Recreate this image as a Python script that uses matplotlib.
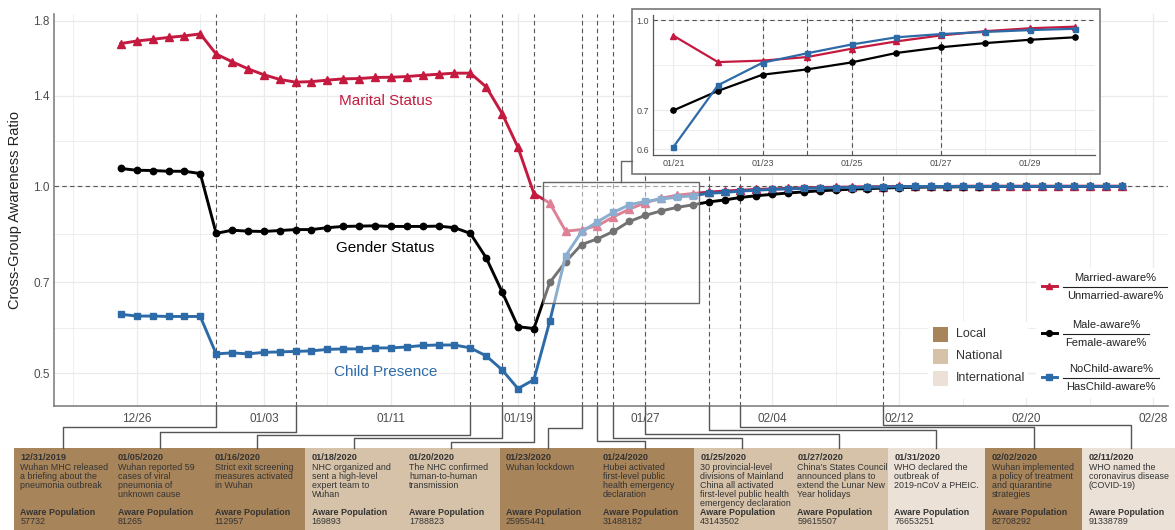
import matplotlib
matplotlib.use("Agg")
import matplotlib.pyplot as plt
import matplotlib.dates as mdates
from matplotlib.patches import Rectangle
from matplotlib.ticker import FixedLocator, NullFormatter
import pandas as pd

plt.rcParams['font.family'] = ['Liberation Sans', 'DejaVu Sans']

# ---- data -------------------------------------------------------------
dates = pd.date_range('2019-12-25', '2020-02-26', freq='D')

marital = [1.700, 1.716, 1.727, 1.739, 1.749, 1.762, 1.635,
           1.589, 1.548, 1.514, 1.488, 1.473, 1.476, 1.484, 1.491, 1.493, 1.499,
           1.500, 1.504, 1.511, 1.517, 1.523, 1.523, 1.447, 1.311, 1.156, 0.974,
           0.940, 0.847, 0.852, 0.864, 0.893, 0.919, 0.941, 0.957, 0.968, 0.974, 0.979,
           0.983, 0.986, 0.989, 0.991, 0.993, 0.995, 0.996, 0.997, 0.998, 0.999,
           0.999, 1.000, 1.000, 1.000, 1.000, 1.001, 1.001, 1.001, 1.001, 1.001,
           1.001, 1.001, 1.001, 1.001, 1.001, 1.001]

gender = [1.069, 1.062, 1.061, 1.058, 1.058, 1.049, 0.840,
          0.850, 0.847, 0.846, 0.849, 0.852, 0.852, 0.858, 0.862, 0.863, 0.864,
          0.862, 0.862, 0.862, 0.863, 0.858, 0.840, 0.767, 0.676, 0.594, 0.590,
          0.700, 0.756, 0.806, 0.823, 0.846, 0.878, 0.898, 0.913, 0.925, 0.934, 0.944,
          0.951, 0.960, 0.966, 0.971, 0.976, 0.980, 0.984, 0.987, 0.990, 0.992,
          0.994, 0.996, 0.997, 0.998, 0.998, 0.999, 0.999, 1.000, 1.000, 1.000,
          1.000, 1.000, 1.000, 1.000, 1.000, 1.000]

child = [0.622, 0.618, 0.618, 0.617, 0.617, 0.617, 0.537,
         0.539, 0.537, 0.540, 0.541, 0.542, 0.543, 0.546, 0.547, 0.547, 0.549,
         0.549, 0.551, 0.554, 0.555, 0.555, 0.549, 0.533, 0.506, 0.472, 0.488,
         0.606, 0.773, 0.845, 0.877, 0.908, 0.934, 0.946, 0.954, 0.961, 0.966, 0.975,
         0.978, 0.983, 0.986, 0.989, 0.991, 0.993, 0.994, 0.995, 0.996, 0.997,
         0.998, 0.999, 1.000, 1.000, 1.000, 1.000, 1.000, 1.000, 1.000, 1.000,
         1.000, 1.000, 1.000, 1.000, 1.000, 1.000]

event_dates = pd.to_datetime(['2019-12-31', '2020-01-05', '2020-01-16', '2020-01-18',
                              '2020-01-20', '2020-01-23', '2020-01-24', '2020-01-25',
                              '2020-01-27', '2020-01-31', '2020-02-02', '2020-02-11'])
event_scope = ['Local', 'Local', 'Local', 'National', 'National', 'Local', 'Local',
               'National', 'National', 'International', 'Local', 'International']
event_text = [
    "Wuhan MHC released\na briefing about the\npneumonia outbreak",
    "Wuhan reported 59\ncases of viral\npneumonia of\nunknown cause",
    "Strict exit screening\nmeasures activated\nin Wuhan",
    "NHC organized and\nsent a high-level\nexpert team to\nWuhan",
    "The NHC confirmed\nhuman-to-human\ntransmission",
    "Wuhan lockdown",
    "Hubei activated\nfirst-level public\nhealth emergency\ndeclaration",
    "30 provincial-level\ndivisions of Mainland\nChina all activated\nfirst-level public health\nemergency declaration",
    "China\u2019s States Council\nannounced plans to\nextend the Lunar New\nYear holidays",
    "WHO declared the\noutbreak of\n2019-nCoV a PHEIC.",
    "Wuhan implemented\na policy of treatment\nand quarantine\nstrategies",
    "WHO named the\ncoronavirus disease\n(COVID-19)",
]
aware_pop = [57732, 81265, 112957, 169893, 1788823, 25955441, 31488182,
             43143502, 59615507, 76653251, 82708292, 91338789]

scope_names = ['Local', 'National', 'International']
scope_colors = {'Local': '#A8845A', 'National': '#D5C2A9', 'International': '#EBE1D7'}

RED = '#C41A3F'
BLK = '#000000'
BLUE = '#2D6BA8'
GRID = '#EBEBEB'
DASH = '#555555'

# ---- figure -----------------------------------------------------------
W, H = 1175, 530
fig = plt.figure(figsize=(W / 100, H / 100), dpi=100)


def fx(px):
    return px / W


def fy(py):
    return 1 - py / H


ax = fig.add_axes([fx(54), fy(405.7), fx(1168) - fx(54), fy(13.6) - fy(405.7)], zorder=0)
ax.set_yscale('log')

ax.plot(dates, marital, color=RED, lw=2.1, marker='^', ms=5.2, zorder=3)
ax.plot(dates, gender, color=BLK, lw=2.1, marker='o', ms=4.6, zorder=3)
ax.plot(dates, child, color=BLUE, lw=2.1, marker='s', ms=4.4, zorder=3)

ax.axhline(1.0, color=DASH, lw=0.8, ls=(0, (4, 3)), zorder=2)
for d in event_dates:
    ax.axvline(d, color=DASH, lw=0.8, ls=(0, (4, 3)), zorder=2)

ax.text(pd.Timestamp('2020-01-10 16:00'), 1.373, 'Marital Status', color=RED,
        fontsize=11, ha='center', va='center')
ax.text(pd.Timestamp('2020-01-10 16:00'), 0.795, 'Gender Status', color=BLK,
        fontsize=11, ha='center', va='center')
ax.text(pd.Timestamp('2020-01-10 16:00'), 0.502, 'Child Presence', color=BLUE,
        fontsize=11, ha='center', va='center')

ax.set_xlim(pd.Timestamp('2019-12-20 19:00'), pd.Timestamp('2020-02-28 22:00'))
ax.set_ylim(0.443, 1.9)

ax.xaxis.set_major_locator(FixedLocator(mdates.date2num(
    pd.date_range('2019-12-26', '2020-02-28', freq='8D'))))
ax.xaxis.set_minor_locator(FixedLocator(mdates.date2num(
    pd.date_range('2019-12-22', '2020-02-24', freq='8D'))))
ax.xaxis.set_major_formatter(mdates.DateFormatter('%m/%d'))
ax.yaxis.set_major_locator(FixedLocator([0.5, 0.7, 1.0, 1.4, 1.85]))
ax.yaxis.set_major_formatter(plt.FixedFormatter(['0.5', '0.7', '1.0', '1.4', '1.8']))
ax.yaxis.set_minor_locator(FixedLocator([0.5916, 0.8367, 1.1832]))
ax.yaxis.set_minor_formatter(NullFormatter())

ax.grid(which='major', color=GRID, lw=0.9, zorder=0)
ax.grid(which='minor', color=GRID, lw=0.6, zorder=0)
ax.set_axisbelow(True)
ax.tick_params(which='both', length=0, labelsize=8.5, labelcolor='#4D4D4D')
ax.tick_params(axis='x', pad=5)
ax.tick_params(axis='y', pad=3)
for s in ['top', 'right']:
    ax.spines[s].set_visible(False)
for s in ['left', 'bottom']:
    ax.spines[s].set_color('#777777')
    ax.spines[s].set_linewidth(1.1)
ax.set_ylabel('Cross-Group Awareness Ratio', fontsize=10.5, color='#222222', labelpad=8)

# faded highlight window
hl_x0 = mdates.date2num(pd.Timestamp('2020-01-20 14:00'))
hl_x1 = mdates.date2num(pd.Timestamp('2020-01-30 10:00'))
hl_y0, hl_y1 = 0.648, 1.016
ax.add_patch(Rectangle((hl_x0, hl_y0), hl_x1 - hl_x0, hl_y1 - hl_y0,
                       facecolor='white', alpha=0.45, edgecolor='none', zorder=4))
ax.add_patch(Rectangle((hl_x0, hl_y0), hl_x1 - hl_x0, hl_y1 - hl_y0,
                       facecolor='none', edgecolor='#666666', lw=1.0, zorder=5))

# ---- overlay in pixel coords -----------------------------------------
ov = fig.add_axes([0, 0, 1, 1], zorder=2)
ov.set_xlim(0, W)
ov.set_ylim(H, 0)
ov.axis('off')


def to_px(x, y):
    return ov.transData.inverted().transform(ax.transData.transform((x, y)))


# inset frame + connector
ov.add_patch(Rectangle((632, 9), 468, 165, facecolor='white', edgecolor='#777777', lw=1.2))
top_c = to_px((hl_x0 + hl_x1) / 2, hl_y1)
ov.plot([top_c[0], top_c[0], 632], [top_c[1], 160.7, 160.7], color='#666666', lw=1.0)

# event boxes
box_l, box_w, box_top = 14, 97.1, 448
elbow_y = [427, 431.7, 435, 437.7, 441.7, 427.7, 440.7, 437.7, 434, 430, 427.3, 425]
axis_y = to_px(ax.get_xlim()[0], ax.get_ylim()[0])[1]
for i, d in enumerate(event_dates):
    left = box_l + i * box_w
    ov.add_patch(Rectangle((left, box_top), box_w + 0.5, H - box_top + 2,
                           facecolor=scope_colors[event_scope[i]], edgecolor='none'))
    ex = to_px(mdates.date2num(d), 1.0)[0]
    cx = left + box_w / 2
    ov.plot([ex, ex, cx, cx], [axis_y, elbow_y[i], elbow_y[i], box_top],
            color='#555555', lw=1.0)
    tx = left + 6.5
    ov.text(tx, 458, d.strftime('%m/%d/%Y'), fontsize=6.6, fontweight='bold',
            color='#333333', ha='left', va='center')
    for k, line in enumerate(event_text[i].split('\n')):
        ov.text(tx, 467.3 + 9 * k, line, fontsize=6.4, color='#333333',
                ha='left', va='center')
    ov.text(tx, 512.3, 'Aware Population', fontsize=6.4, fontweight='bold',
            color='#333333', ha='left', va='center')
    ov.text(tx, 521, str(aware_pop[i]), fontsize=6.4, color='#333333',
            ha='left', va='center')

# legend backgrounds
ov.add_patch(Rectangle((928, 322), 100, 76, facecolor='white', edgecolor='none'))
ov.add_patch(Rectangle((1036, 268), 139, 130, facecolor='white', edgecolor='none'))

# fill legend
for k, (name, yc) in enumerate(zip(scope_names, [334, 356.3, 378.3])):
    ov.add_patch(Rectangle((933.3, yc - 7.5), 15, 15, facecolor=scope_colors[name],
                           edgecolor='none'))
    ov.text(956, yc, name, fontsize=9, color='#333333', ha='left', va='center')

# ratio legend
ratio_leg = [('Married-aware%', 'Unmarried-aware%', RED, '^', 4.6, 287.3, 1167),
             ('Male-aware%', 'Female-aware%', BLK, 'o', 4.2, 334, 1149),
             ('NoChild-aware%', 'HasChild-aware%', BLUE, 's', 4.0, 378.3, 1159.3)]
for num, den, col, mk, msz, yl, xr in ratio_leg:
    ov.plot([1041.7, 1056.7], [yl - 1.3, yl - 1.3], color=col, lw=2.1)
    ov.plot([1049.2], [yl - 1.3], color=col, marker=mk, ms=msz, ls='none')
    ov.plot([1063.3, xr], [yl, yl], color='#222222', lw=0.8)
    xm = (1063.3 + xr) / 2
    ov.text(xm, yl - 9, num, fontsize=8, color='#222222', ha='center', va='center')
    ov.text(xm, yl + 8.7, den, fontsize=8, color='#222222', ha='center', va='center')

# ---- inset --------------------------------------------------------------
ins = fig.add_axes([fx(653), fy(155), fx(1095) - fx(653), fy(15) - fy(155)], zorder=3)
ins.set_yscale('log')
sel = (dates >= '2020-01-21') & (dates <= '2020-01-30')
ins_dates = dates[sel]
ins.plot(ins_dates, [v for v, s in zip(marital, sel) if s], color=RED, lw=1.6,
         marker='^', ms=4.2, zorder=3)
ins.plot(ins_dates, [v for v, s in zip(gender, sel) if s], color=BLK, lw=1.6,
         marker='o', ms=3.8, zorder=3)
ins.plot(ins_dates, [v for v, s in zip(child, sel) if s], color=BLUE, lw=1.6,
         marker='s', ms=3.6, zorder=3)
ins.axhline(1.0, color=DASH, lw=0.8, ls=(0, (4, 3)), zorder=2)
for d in event_dates:
    if pd.Timestamp('2020-01-21') <= d <= pd.Timestamp('2020-01-30'):
        ins.axvline(d, color=DASH, lw=0.8, ls=(0, (4, 3)), zorder=2)
ins.set_xlim(pd.Timestamp('2020-01-20 13:00'), pd.Timestamp('2020-01-30 11:00'))
ins.set_ylim(0.587, 1.02)
ins.xaxis.set_major_locator(FixedLocator(mdates.date2num(
    pd.date_range('2020-01-21', '2020-01-29', freq='2D'))))
ins.xaxis.set_minor_locator(FixedLocator(mdates.date2num(
    pd.date_range('2020-01-22', '2020-01-30', freq='2D'))))
ins.xaxis.set_major_formatter(mdates.DateFormatter('%m/%d'))
ins.yaxis.set_major_locator(FixedLocator([0.6, 0.7, 1.0]))
ins.yaxis.set_major_formatter(plt.FixedFormatter(['0.6', '0.7', '1.0']))
ins.yaxis.set_minor_locator(FixedLocator([0.648, 0.8367]))
ins.yaxis.set_minor_formatter(NullFormatter())
ins.grid(which='major', color=GRID, lw=0.8)
ins.grid(which='minor', color=GRID, lw=0.6)
ins.set_axisbelow(True)
ins.tick_params(which='both', length=0, labelsize=6.5, labelcolor='#4D4D4D', pad=3)
for s in ['top', 'right']:
    ins.spines[s].set_visible(False)
for s in ['left', 'bottom']:
    ins.spines[s].set_color('#555555')
    ins.spines[s].set_linewidth(0.9)

fig.savefig('out.png', dpi=100)
